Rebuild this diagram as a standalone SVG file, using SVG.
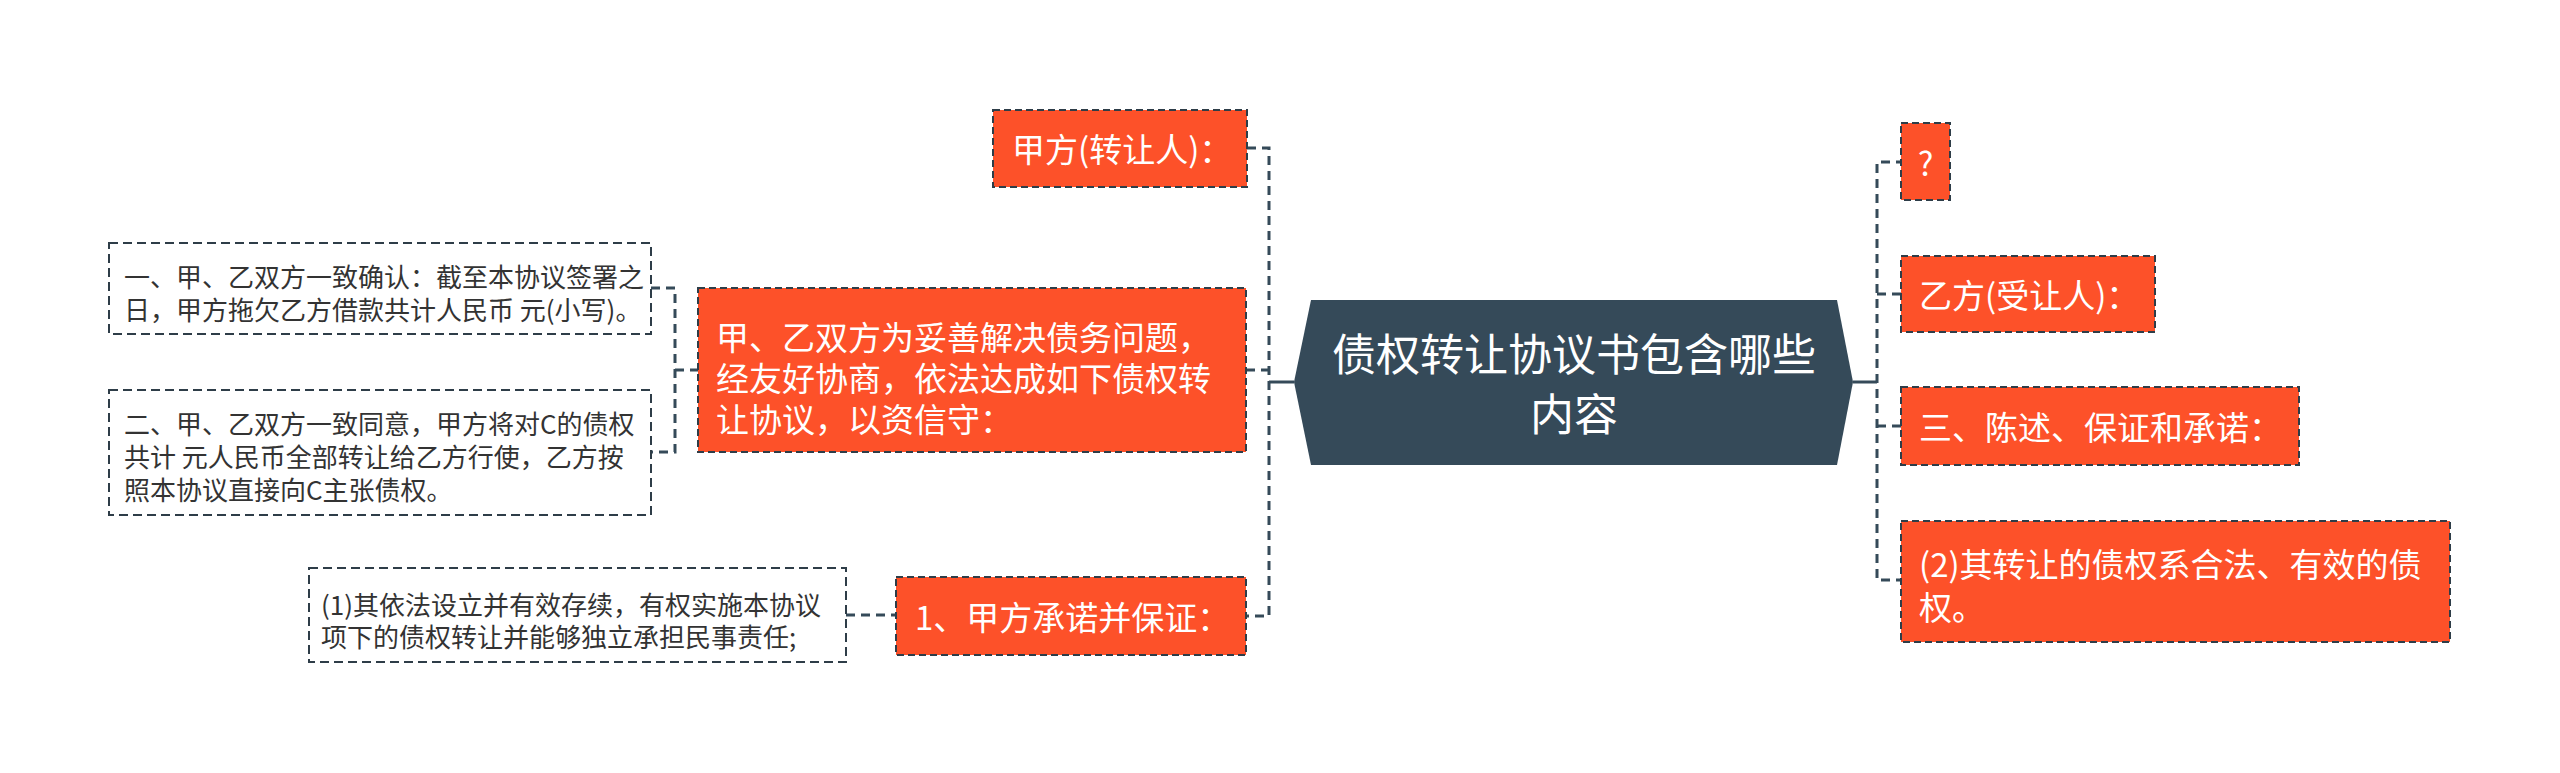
<svg xmlns="http://www.w3.org/2000/svg" width="2560" height="773" viewBox="0 0 2560 773">
<style>
  .bg { fill: #ffffff; }
  .hex { fill: #354a59; }
  .title { fill: #ffffff; font-family: "Noto Sans CJK SC", "Noto Sans", sans-serif; font-size: 44px; text-anchor: middle; dominant-baseline: central; }
  .onode { fill: #fd5129; stroke: #2e3d48; stroke-width: 2; stroke-dasharray: 7 4; }
  .wnode { fill: #ffffff; stroke: #2e3d48; stroke-width: 2; stroke-dasharray: 9 5; }
  .otext { fill: #ffffff; font-family: "Noto Sans CJK SC", "Noto Sans", sans-serif; font-size: 33px; dominant-baseline: central; }
  .wtext { fill: #333333; font-family: "Noto Sans CJK SC", "Noto Sans", sans-serif; font-size: 26px; dominant-baseline: central; }
  .solid { fill: none; stroke: #354a59; stroke-width: 3; }
  .dash { fill: none; stroke: #354a59; stroke-width: 3; stroke-dasharray: 9 6; }
</style>
<rect class="bg" x="0" y="0" width="2560" height="773"/>

<g id="connectors">
  <path class="solid" d="M1294,382 H1269"/>
  <path class="dash" d="M1247,148 H1269 V616 H1246"/>
  <path class="dash" d="M1246,370 H1269"/>
  <path class="dash" d="M651,288 H675 V452 H651"/>
  <path class="dash" d="M675,370 H698"/>
  <path class="dash" d="M846,615 H896"/>
  <path class="solid" d="M1853,382 H1877"/>
  <path class="dash" d="M1950,162 H1877 V580 H1901"/>
  <path class="dash" d="M1877,294 H1901"/>
  <path class="dash" d="M1877,426 H1901"/>
</g>

<g id="center">
  <polygon class="hex" points="1294,382 1311,300 1837,300 1853,382 1837,465 1311,465"/>
  <text class="title" x="1574" y="352">债权转让协议书包含哪些</text>
  <text class="title" x="1574" y="412">内容</text>
</g>

<g id="node-jiafang">
  <rect class="onode" x="993" y="110" width="254" height="77"/>
  <text class="otext" x="1012" y="148">甲方(转让人)：</text>
</g>

<g id="node-preamble">
  <rect class="onode" x="698" y="288" width="548" height="164"/>
  <text class="otext" x="716" y="336">甲、乙双方为妥善解决债务问题，</text>
  <text class="otext" x="716" y="377">经友好协商，依法达成如下债权转</text>
  <text class="otext" x="716" y="418">让协议，以资信守：</text>
</g>

<g id="node-clause1">
  <rect class="wnode" x="109" y="243" width="542" height="91"/>
  <text class="wtext" x="124" y="275">一、甲、乙双方一致确认：截至本协议签署之</text>
  <text class="wtext" x="124" y="308">日，甲方拖欠乙方借款共计人民币 元(小写)。</text>
</g>

<g id="node-clause2">
  <rect class="wnode" x="109" y="390" width="542" height="125"/>
  <text class="wtext" x="124" y="422">二、甲、乙双方一致同意，甲方将对C的债权</text>
  <text class="wtext" x="124" y="455">共计 元人民币全部转让给乙方行使，乙方按</text>
  <text class="wtext" x="124" y="488">照本协议直接向C主张债权。</text>
</g>

<g id="node-promise">
  <rect class="onode" x="896" y="577" width="350" height="78"/>
  <text class="otext" x="915" y="616">1、甲方承诺并保证：</text>
</g>

<g id="node-promise1">
  <rect class="wnode" x="309" y="568" width="537" height="94"/>
  <text class="wtext" x="321" y="603">(1)其依法设立并有效存续，有权实施本协议</text>
  <text class="wtext" x="321" y="635">项下的债权转让并能够独立承担民事责任;</text>
</g>

<g id="node-question">
  <rect class="onode" x="1901" y="123" width="49" height="77"/>
  <text class="otext" x="1925.5" y="162" text-anchor="middle">?</text>
</g>

<g id="node-yifang">
  <rect class="onode" x="1901" y="256" width="254" height="76"/>
  <text class="otext" x="1919" y="294">乙方(受让人)：</text>
</g>

<g id="node-statement">
  <rect class="onode" x="1901" y="387" width="398" height="78"/>
  <text class="otext" x="1919" y="426">三、陈述、保证和承诺：</text>
</g>

<g id="node-promise2">
  <rect class="onode" x="1901" y="521" width="549" height="121"/>
  <text class="otext" x="1919" y="563">(2)其转让的债权系合法、有效的债</text>
  <text class="otext" x="1919" y="606">权。</text>
</g>
</svg>
